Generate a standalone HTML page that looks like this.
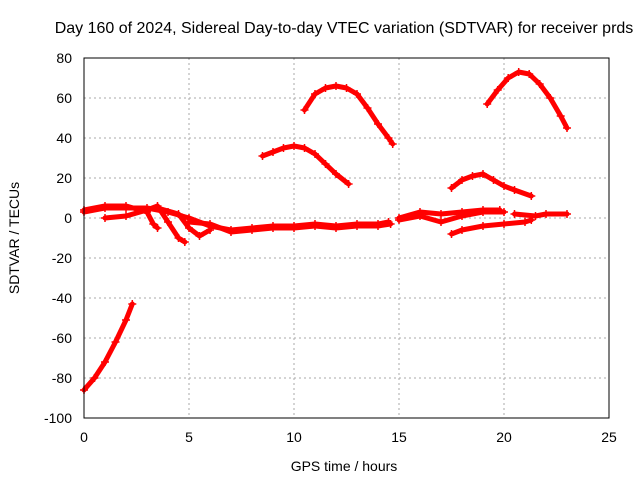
<!DOCTYPE html>
<html><head><meta charset="utf-8"><style>
body{margin:0;background:#fff;}
svg{display:block;font-family:"Liberation Sans",sans-serif;}
</style></head><body>
<svg id="chart" width="640" height="480">
<text x="344" y="33" font-size="16" text-anchor="middle">Day 160 of 2024, Sidereal Day-to-day VTEC variation (SDTVAR) for receiver prds</text>
<text x="344" y="471" font-size="14" text-anchor="middle">GPS time / hours</text>
<text x="19" y="238" font-size="14" text-anchor="middle" transform="rotate(-90 19 238)">SDTVAR / TECUs</text>
<g id="grid"></g><g id="ticks"></g><g id="series"></g>
<rect x="84" y="58" width="525" height="360" fill="none" stroke="#000"/>
</svg>
<script>
const xTicks=[0,5,10,15,20,25];
const yTicks=[-100,-80,-60,-40,-20,0,20,40,60,80];
const track1=[[0,-86],[0.5,-80],[1,-72],[1.5,-62],[2,-51],[2.3,-43]];
const track2=[[10.5,54],[11,62],[11.5,65],[12,66],[12.5,65],[13,62],[13.5,55],[14,47],[14.5,40],[14.7,37]];
const track3=[[19.2,57],[19.7,64],[20.2,70],[20.7,73],[21.2,72],[21.7,67],[22.2,60],[22.7,51],[23,45]];
const track4=[[8.5,31],[9,33],[9.5,35],[10,36],[10.5,35],[11,32],[11.5,27],[12,22],[12.6,17]];
const track5=[[17.5,15],[18,19],[18.5,21],[19,22],[19.5,19],[20,16],[20.5,14],[21.3,11]];
const track6=[[0,3],[1,5],[2,5],[3,5],[4,3],[5,0],[6,-4],[7,-6],[8,-5],[9,-4],[10,-4],[11,-3],[12,-4],[13,-3],[14,-3],[14.5,-2]];
const track7=[[0,4],[1,6],[2,6],[3,3],[3.3,-3],[3.5,-5]];
const track8=[[1,0],[2,1],[3,4],[3.5,6],[4,-2],[4.5,-10],[4.8,-12]];
const track9=[[3.5,5],[4.5,2],[5,-5],[5.5,-9],[6,-6]];
const track10=[[5,-2],[6,-3],[7,-7],[8,-6],[9,-5],[10,-5],[11,-4],[12,-5],[13,-4],[14,-4],[14.6,-3]];
const track11=[[15,0],[16,3],[17,2],[18,3],[19,4],[19.8,4]];
const track12=[[15,-1],[16,1],[17,-2],[18,1],[19,3],[20,3]];
const track13=[[17.5,-8],[18,-6],[19,-4],[20,-3],[21,-2],[21.3,-1]];
const track14=[[20.5,2],[21.5,1],[22,2],[23,2]];
const tracks=[track1,track2,track3,track4,track5,track6,track7,track8,track9,track10,track11,track12,track13,track14];
const NS="http://www.w3.org/2000/svg";
const X=v=>84+v*21, Y=v=>218-v*2;
const grid=document.getElementById('grid'),ticks=document.getElementById('ticks'),ser=document.getElementById('series');
function mk(tag,attrs,parent){const e=document.createElementNS(NS,tag);for(const k in attrs)e.setAttribute(k,attrs[k]);parent.appendChild(e);return e;}
xTicks.forEach(t=>{
 if(t>0&&t<25){const l=mk('line',{x1:X(t),x2:X(t),y1:58,y2:418,stroke:'#aaa','stroke-dasharray':'2,3'},grid);
 
 }
 const tx=mk('text',{x:X(t),y:442,'font-size':14,'text-anchor':'middle'},ticks);tx.textContent=t;
 
 
});
yTicks.forEach(t=>{
 if(t>-100&&t<80){const l=mk('line',{x1:84,x2:609,y1:Y(t),y2:Y(t),stroke:'#aaa','stroke-dasharray':'2,3'},grid);
 
 }
 const tx=mk('text',{x:72,y:Y(t)+5,'font-size':14,'text-anchor':'end'},ticks);tx.textContent=t;
 
 
});
tracks.forEach((tr,i)=>{
 const p=mk('polyline',{points:tr.map(d=>X(d[0])+','+Y(d[1])).join(' '),fill:'none',stroke:'#f00','stroke-width':5,'stroke-linejoin':'round','stroke-linecap':'round'},ser);
 
 
 tr.forEach(d=>{
  const m=mk('path',{d:`M${X(d[0])-4},${Y(d[1])}h8M${X(d[0])},${Y(d[1])-4}v8`,stroke:'#f00','stroke-width':1.5},ser);
  
  
 });
});
</script>
</body></html>
